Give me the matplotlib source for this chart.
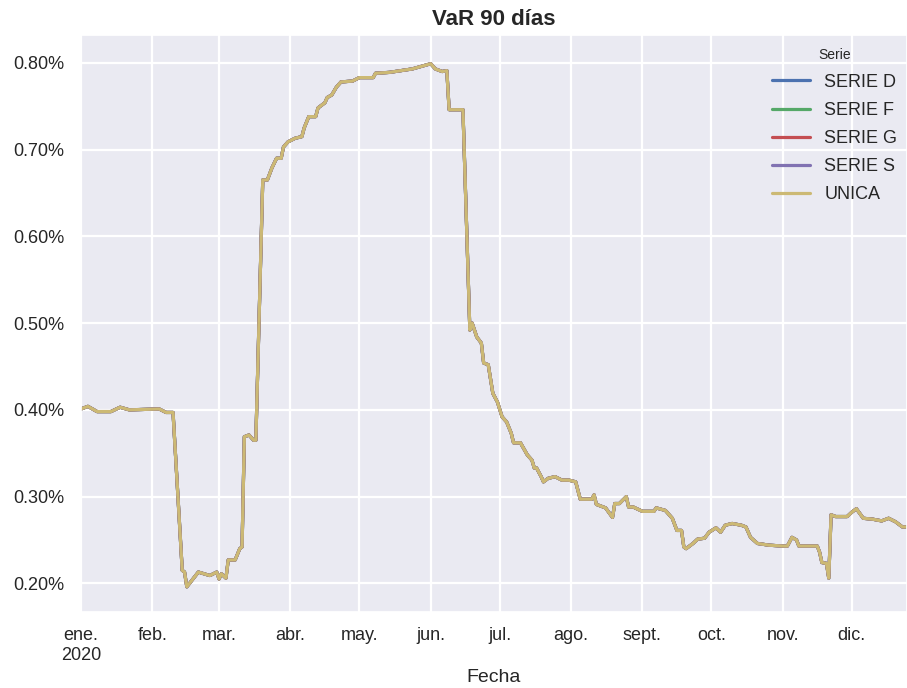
import matplotlib
matplotlib.use("Agg")
import matplotlib.pyplot as plt
import pandas as pd
import seaborn as sns
from matplotlib.ticker import FuncFormatter

# VaR 90 días (en %); todas las series coinciden
fechas = [
    "2020-01-01", "2020-01-04", "2020-01-08", "2020-01-14", "2020-01-18", "2020-01-22",
    "2020-02-04", "2020-02-07", "2020-02-10", "2020-02-14", "2020-02-15", "2020-02-16",
    "2020-02-21", "2020-02-26", "2020-02-29", "2020-03-01", "2020-03-02", "2020-03-04",
    "2020-03-05", "2020-03-08", "2020-03-10", "2020-03-11", "2020-03-12", "2020-03-14",
    "2020-03-16", "2020-03-17", "2020-03-20", "2020-03-22", "2020-03-24", "2020-03-26",
    "2020-03-28", "2020-03-29", "2020-03-31", "2020-04-03", "2020-04-06", "2020-04-07",
    "2020-04-09", "2020-04-12", "2020-04-13", "2020-04-16", "2020-04-17", "2020-04-19",
    "2020-04-21", "2020-04-23", "2020-04-28", "2020-05-01", "2020-05-07", "2020-05-08",
    "2020-05-14", "2020-05-24", "2020-05-28", "2020-06-01", "2020-06-03", "2020-06-06",
    "2020-06-08", "2020-06-09", "2020-06-15", "2020-06-18", "2020-06-19", "2020-06-21",
    "2020-06-23", "2020-06-24", "2020-06-26", "2020-06-28", "2020-06-30", "2020-07-02",
    "2020-07-04", "2020-07-06", "2020-07-07", "2020-07-10", "2020-07-13", "2020-07-15",
    "2020-07-16", "2020-07-17", "2020-07-19", "2020-07-20", "2020-07-22", "2020-07-25",
    "2020-07-28", "2020-07-31", "2020-08-03", "2020-08-05", "2020-08-10", "2020-08-11",
    "2020-08-12", "2020-08-16", "2020-08-19", "2020-08-20", "2020-08-22", "2020-08-25",
    "2020-08-26", "2020-08-28", "2020-09-01", "2020-09-06", "2020-09-07", "2020-09-11",
    "2020-09-14", "2020-09-16", "2020-09-18", "2020-09-19", "2020-09-20", "2020-09-23",
    "2020-09-25", "2020-09-28", "2020-09-30", "2020-10-03", "2020-10-05", "2020-10-07",
    "2020-10-10", "2020-10-14", "2020-10-16", "2020-10-18", "2020-10-21", "2020-10-26",
    "2020-11-01", "2020-11-03", "2020-11-05", "2020-11-07", "2020-11-08", "2020-11-16",
    "2020-11-17", "2020-11-18", "2020-11-20", "2020-11-21", "2020-11-22", "2020-11-24",
    "2020-11-29", "2020-12-01", "2020-12-03", "2020-12-06", "2020-12-10", "2020-12-14",
    "2020-12-17", "2020-12-20", "2020-12-23", "2020-12-25",
]
var_90 = [
    0.401, 0.404, 0.398, 0.398, 0.403, 0.400,
    0.401, 0.397, 0.397, 0.215, 0.213, 0.196,
    0.213, 0.209, 0.213, 0.205, 0.211, 0.206,
    0.227, 0.227, 0.240, 0.242, 0.369, 0.371,
    0.365, 0.365, 0.665, 0.665, 0.679, 0.690,
    0.690, 0.703, 0.709, 0.713, 0.715, 0.725,
    0.738, 0.738, 0.748, 0.754, 0.760, 0.763,
    0.772, 0.778, 0.779, 0.783, 0.783, 0.788,
    0.789, 0.793, 0.796, 0.799, 0.793, 0.790,
    0.791, 0.746, 0.746, 0.492, 0.500, 0.484,
    0.477, 0.454, 0.452, 0.419, 0.409, 0.392,
    0.386, 0.373, 0.362, 0.362, 0.348, 0.342,
    0.333, 0.333, 0.323, 0.317, 0.321, 0.323,
    0.319, 0.319, 0.317, 0.297, 0.297, 0.302,
    0.291, 0.287, 0.276, 0.292, 0.292, 0.300,
    0.288, 0.288, 0.283, 0.283, 0.287, 0.284,
    0.275, 0.261, 0.261, 0.242, 0.240, 0.246,
    0.251, 0.252, 0.259, 0.264, 0.259, 0.267,
    0.269, 0.267, 0.265, 0.253, 0.246, 0.244,
    0.243, 0.243, 0.253, 0.250, 0.243, 0.243,
    0.236, 0.224, 0.223, 0.206, 0.279, 0.277,
    0.277, 0.282, 0.286, 0.275, 0.274, 0.272,
    0.275, 0.271, 0.265, 0.265,
]
series = ["SERIE D", "SERIE F", "SERIE G", "SERIE S", "UNICA"]
colores = ["#4C72B0", "#55A868", "#C44E52", "#8172B2", "#CCB974"]
meses = ["ene.\n2020", "feb.", "mar.", "abr.", "may.", "jun.", "jul.",
         "ago.", "sept.", "oct.", "nov.", "dic."]

sns.set_theme(style="darkgrid", rc={"grid.linewidth": 1.6})
plt.rcParams["font.family"] = ["Liberation Sans", "DejaVu Sans"]

x = pd.to_datetime(fechas)

fig = plt.figure(figsize=(9.07, 6.88), dpi=100)
ax = fig.add_axes([0.0893, 0.1105, 0.9107, 0.8385])

for nombre, color in zip(series, colores):
    ax.plot(x, var_90, color=color, lw=2.3, label=nombre)

ax.set_xlim(x[0], x[-1])
ax.set_ylim(0.167, 0.832)
ax.set_yticks([0.2, 0.3, 0.4, 0.5, 0.6, 0.7, 0.8])
ax.yaxis.set_major_formatter(FuncFormatter(lambda v, p: f"{v:.2f}%"))

ax.set_xticks(pd.date_range("2020-01-01", periods=12, freq="MS"))
ax.set_xticklabels(meses, ha="center")
ax.tick_params(axis="x", labelsize=13, pad=5)
ax.tick_params(axis="y", labelsize=13, pad=6)

ax.set_xlabel("Fecha", fontsize=14, labelpad=4)
ax.set_title("VaR 90 días", fontsize=16, fontweight="bold", pad=7)

leg = ax.legend(title="Serie", loc="upper right", fontsize=13, title_fontsize=10,
                frameon=False, handlelength=2.1, labelspacing=0.62,
                bbox_to_anchor=(1.008, 1.005))

fig.savefig("out.png", dpi=100)
